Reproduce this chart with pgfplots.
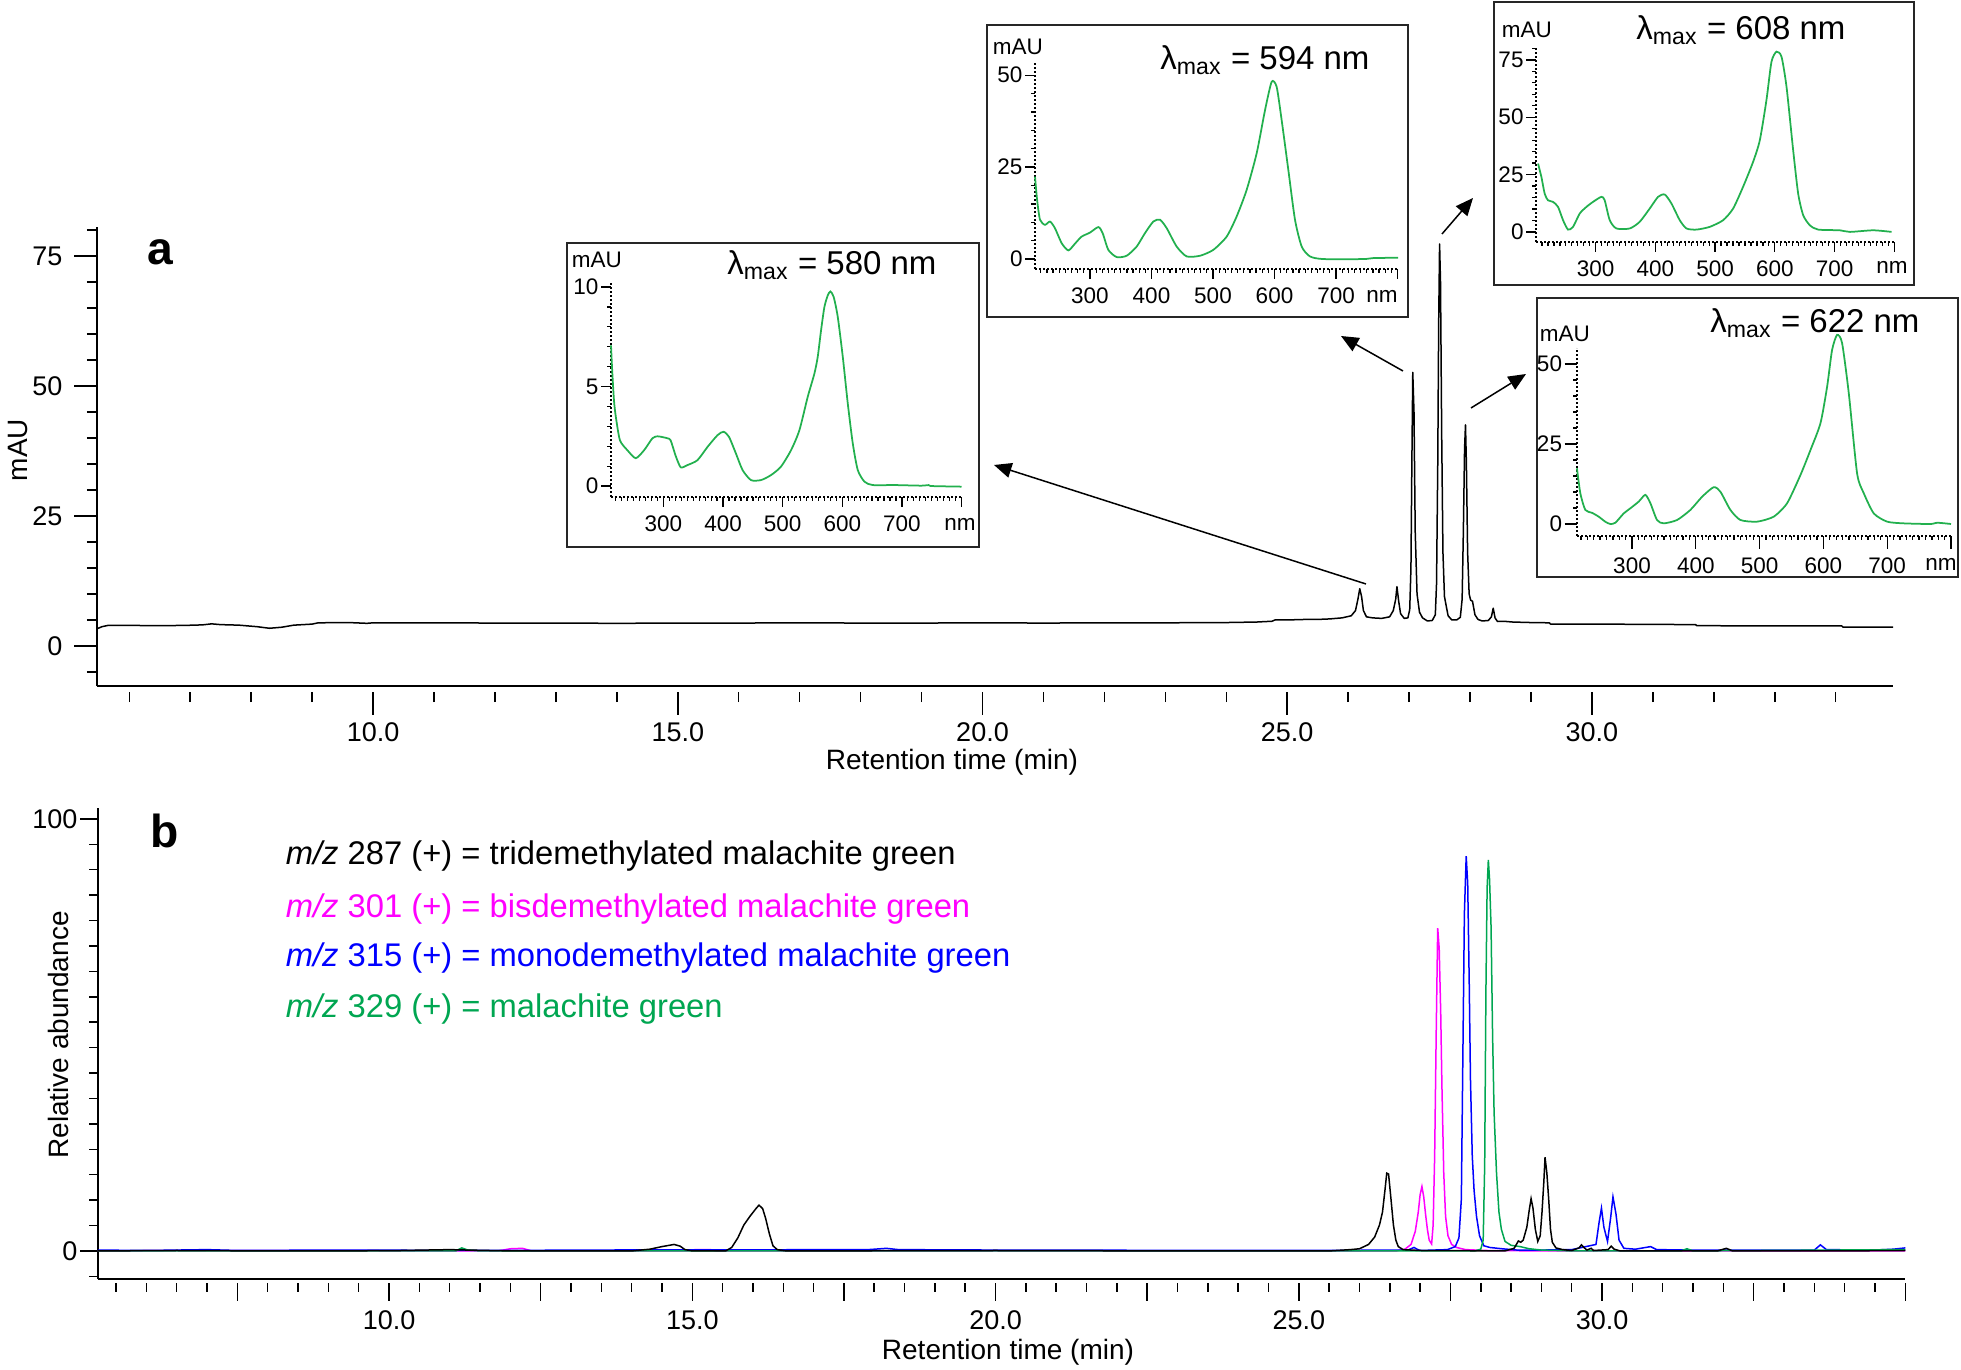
\documentclass[border=0pt]{standalone}
\usepackage{fontspec}
\setmainfont{Liberation Sans}
\usepackage{pgfplots}
\pgfplotsset{compat=1.18}
\usetikzlibrary{arrows.meta}
\definecolor{spgreen}{HTML}{22B04E}
\definecolor{msgreen}{HTML}{00A651}
\definecolor{msmag}{HTML}{FF00FF}
\definecolor{msblue}{HTML}{0000FF}

\pgfplotsset{
  inset/.style={anchor=south west, scale only axis, axis lines=left, clip=false,
    axis line style={-,densely dotted,line width=0.6pt},
    tick align=outside, major tick length=4pt, minor tick length=1.6pt,
    every tick/.style={black,line width=0.5pt},
    xtick={300,400,500,600,700,800}, xticklabels={300,400,500,600,700,},
    minor xtick={210,220,...,790},
    tick label style={font=\fontsize{9}{10}\selectfont},
    yticklabel style={inner sep=0.8pt},
    /pgf/number format/assume math mode=true},
  spec/.style={spgreen,line width=0.7pt,smooth,tension=0.4}
}

\begin{document}
\begin{tikzpicture}
\useasboundingbox (0,0) rectangle (784.4pt,-548pt);

% ---- panel a: UV chromatogram
\begin{axis}[at={(38.8pt,-274.4pt)},anchor=south west,scale only axis,
  width=718.4pt,height=183.7pt,
  xmin=5.47,xmax=34.94,ymin=-7.7,ymax=80.6,
  axis lines=left,axis line style={-,line width=0.7pt},
  tick align=outside,major tick length=9pt,minor tick length=4pt,
  every tick/.style={black,line width=0.6pt},
  xtick={10,15,20,25,30},xticklabels={10.0,15.0,20.0,25.0,30.0},
  minor xtick={6,7,...,34},
  ytick={0,25,50,75},minor ytick={-5,5,10,...,80},
  xtick style={yshift=-2.4pt},
  tick label style={font=\fontsize{10.8}{12}\selectfont},
  xticklabel style={anchor=center,yshift=-9.6pt},
  yticklabel style={anchor=east,inner sep=0pt,xshift=-4.6pt},
  /pgf/number format/assume math mode=true]
\addplot[black,line width=0.6pt,line join=round] coordinates {
(5.47,3.3)(5.55,3.7)(5.65,3.95)(6.0,3.95)(6.5,3.9)(6.9,3.95)(7.2,4.05)(7.35,4.25)
(7.5,4.1)(7.8,4.0)(8.1,3.7)(8.3,3.4)(8.5,3.6)(8.7,4.0)(9.0,4.2)(9.1,4.45)(9.6,4.5)
(9.9,4.35)(10.0,4.45)(11.0,4.45)(12.0,4.4)(13.0,4.4)(14.0,4.35)(15.0,4.4)(16.0,4.4)
(17.0,4.45)(18.0,4.4)(19.0,4.4)(20.0,4.45)(21.0,4.4)(22.0,4.45)(23.0,4.45)(24.0,4.5)
(24.5,4.6)(24.75,4.75)(24.8,5.0)(25.0,5.0)(25.3,5.1)(25.5,5.1)(25.7,5.2)(25.9,5.4)
(26.05,5.8)(26.12,6.8)(26.16,9.0)(26.19,11.0)(26.22,9.5)(26.25,6.8)(26.3,5.6)(26.4,5.4)
(26.55,5.3)(26.68,5.6)(26.74,6.8)(26.78,9.0)(26.80,11.4)(26.83,8.5)(26.86,6.2)(26.92,5.3)
(26.98,5.4)(27.01,7)(27.03,15)(27.045,35)(27.06,52.6)(27.08,45)(27.10,22)(27.13,10)
(27.17,6.5)(27.22,5.4)(27.3,4.8)(27.38,4.9)(27.43,6)(27.45,12)(27.47,35)(27.485,62)
(27.50,77.3)(27.515,70)(27.535,40)(27.555,18)(27.58,9.5)(27.61,7.6)(27.64,5.8)(27.7,5.0)
(27.78,5.0)(27.84,5.5)(27.87,9)(27.89,22)(27.91,38)(27.925,42.5)(27.94,35)(27.96,18)
(27.985,10)(28.01,8.8)(28.04,8.6)(28.08,6)(28.13,5.1)(28.2,4.8)(28.3,4.9)(28.35,5.6)
(28.38,7.25)(28.41,5.4)(28.45,4.7)(28.55,4.75)(28.7,4.6)(29.0,4.5)(29.3,4.45)(29.32,4.2)
(30.0,4.2)(31.0,4.15)(31.7,4.1)(31.72,3.9)(33.0,3.85)(34.1,3.85)(34.12,3.6)(34.94,3.6)};
\end{axis}

% ---- panel b: extracted ion chromatograms
\begin{axis}[at={(39.16pt,-511.6pt)},anchor=south west,scale only axis,
  width=722.96pt,height=188.35pt,
  xmin=5.2,xmax=35,ymin=-6.5,ymax=102.5,
  axis lines=left,axis line style={-,line width=0.7pt},
  tick align=outside,major tick length=7pt,minor tick length=3.5pt,
  every tick/.style={black,line width=0.6pt},
  xtick={7.5,10,...,35},xticklabels={,10.0,,15.0,,20.0,,25.0,,30.0,,},
  minor xtick={5.5,6,...,34.5},
  ytick={0,100},
  minor ytick={-5.882,5.882,11.765,17.647,23.529,29.412,35.294,41.176,47.059,52.941,58.824,64.706,70.588,76.471,82.353,88.235,94.118},
  xtick style={yshift=-1.6pt},
  tick label style={font=\fontsize{10.8}{12}\selectfont},
  xticklabel style={anchor=center,yshift=-9.4pt},
  yticklabel style={anchor=east,inner sep=0pt,xshift=-1pt},
  /pgf/number format/assume math mode=true]
\addplot[msmag,line width=0.6pt] coordinates {
(5.2,0)(7.0,0.1)(11.8,0)(12.0,0.5)(12.2,0.6)(12.35,0)(14.9,0)(15.05,0.3)(15.3,0.3)(15.4,0)
(26.6,0)(26.75,0.4)(26.85,1.5)(26.92,4.5)(26.97,9)(27.0,13)(27.03,14.9)(27.06,12.5)
(27.09,8.5)(27.12,5)(27.15,2.5)(27.19,1.6)(27.215,6)(27.24,22)(27.265,50)(27.29,74.7)
(27.315,70)(27.34,55)(27.36,38)(27.39,18)(27.42,8)(27.46,3.5)(27.52,1.5)(27.6,0.8)
(27.75,0.3)(28.1,0.1)(29.0,0)(33.0,0)(35.0,0)};
\addplot[msblue,line width=0.6pt] coordinates {
(5.2,0.2)(6.0,0.1)(7.0,0.3)(7.5,0.1)(9.0,0.2)(12.0,0.1)(13.0,0.2)(17.9,0.3)(18.2,0.6)
(18.4,0.3)(20.0,0.2)(25.0,0.1)(26.8,0.2)(26.9,0.8)(26.95,0.4)(27.0,0.1)(27.45,0.3)
(27.58,1)(27.64,3)(27.68,12)(27.705,45)(27.73,78)(27.76,91.4)(27.785,85)(27.81,62)
(27.83,40)(27.86,22)(27.89,14)(27.93,8)(27.98,3.5)(28.05,1.2)(28.15,0.8)(28.35,0.5)
(28.6,0.2)(29.0,0.2)(29.5,0.3)(29.8,1.2)(29.9,1.5)(29.95,6.5)(29.99,9.9)(30.03,5.5)
(30.09,2.2)(30.14,7.5)(30.18,12.5)(30.23,8.5)(30.28,2.5)(30.36,0.6)(30.55,0.4)(30.8,1.0)
(30.9,0.3)(31.5,0.2)(33.5,0.2)(33.6,1.4)(33.7,0.3)(34.5,0.2)(34.8,0.4)(35.0,0.7)};
\addplot[msgreen,line width=0.6pt] coordinates {
(5.2,0)(11.1,0)(11.2,0.7)(11.3,0.2)(11.5,0)(27.9,0)(28.0,0.4)(28.04,2.5)(28.065,20)
(28.085,60)(28.105,84)(28.125,90.5)(28.145,86)(28.17,75)(28.195,50)(28.22,32)(28.26,18)
(28.3,9)(28.34,5)(28.4,2.2)(28.5,1.3)(28.65,1.0)(28.8,0.5)(29.0,0.2)(29.5,0)(31.3,0)
(31.4,0.5)(31.5,0)(34.9,0.3)(35.0,0.3)};
\addplot[black,line width=0.6pt] coordinates {
(5.2,0)(6.5,0.1)(8.0,0)(10.0,0.05)(11.0,0.3)(11.3,0.2)(12.0,0)(14.0,0)(14.3,0.4)(14.5,1.0)
(14.7,1.5)(14.8,1.1)(14.88,0.3)(15.0,0)(15.55,0)(15.65,0.8)(15.75,3.0)(15.85,6.0)(15.95,8.0)
(16.05,9.8)(16.1,10.6)(16.16,9.8)(16.21,7.5)(16.27,4.0)(16.33,1.2)(16.4,0.3)(16.55,0)
(20.0,0.1)(23.0,0)(25.5,0)(25.85,0.3)(26.0,0.5)(26.15,1.5)(26.25,3.2)(26.33,6.0)(26.38,9)
(26.42,14)(26.45,18.0)(26.48,17.8)(26.52,12)(26.56,6)(26.6,2.5)(26.64,1.0)(26.72,0.3)
(27.0,0.1)(28.4,0)(28.55,0.6)(28.62,2.3)(28.66,2.0)(28.7,2.5)(28.76,5.5)(28.8,9.5)
(28.83,12.1)(28.86,10)(28.9,5)(28.94,2.2)(28.98,3.5)(29.01,9)(29.04,16)(29.06,21.7)
(29.09,18)(29.12,12)(29.15,5)(29.18,2)(29.24,0.7)(29.35,0.3)(29.5,0.1)(29.62,0.7)
(29.66,1.4)(29.7,0.8)(29.75,0.2)(29.82,0.6)(29.86,0.1)(30.1,0.3)(30.15,1.1)(30.2,0.4)
(30.3,0)(31.9,0)(32.05,0.6)(32.15,0)(34.0,0)(35.0,0.1)};
\end{axis}

% ---- texts, arrows and inset frames
\begin{scope}[x=0.4pt,y=-0.4pt]
\node[font=\fontsize{11.2}{13}\selectfont] at (952,762) {Retention time (min)};
\node[font=\fontsize{11.2}{13}\selectfont] at (1008,1352) {Retention time (min)};
\node[font=\fontsize{11.2}{13}\selectfont,rotate=90] at (18,450) {mAU};
\node[font=\fontsize{11.2}{13}\selectfont,rotate=90] at (58,1035) {Relative abundance};
\node[font=\fontsize{18.5}{20}\selectfont\bfseries,anchor=base] at (160,265) {a};
\node[font=\fontsize{18.5}{20}\selectfont\bfseries,anchor=base] at (165,848) {b};
\begin{scope}[font=\fontsize{13.1}{15}\selectfont]
\node[anchor=base west] at (277,865) {\textit{m/z} 287 (+) = tridemethylated malachite green};
\node[anchor=base west,text=msmag] at (277,918) {\textit{m/z} 301 (+) = bisdemethylated malachite green};
\node[anchor=base west,text=msblue] at (277,967) {\textit{m/z} 315 (+) = monodemethylated malachite green};
\node[anchor=base west,text=msgreen] at (277,1018) {\textit{m/z} 329 (+) = malachite green};
\end{scope}
\begin{scope}[line width=0.6pt,-{Triangle[length=7pt,width=6pt]}]
\draw (1366,584) -- (994,465);
\draw (1403,371) -- (1341,336);
\draw (1442,234) -- (1473,198);
\draw (1471,408) -- (1526,374);
\end{scope}
\begin{scope}[draw=black!85,line width=0.7pt,fill=white]
\filldraw (567,243) rectangle (979,547);
\filldraw (987,25) rectangle (1408,317);
\filldraw (1494,2) rectangle (1914,285);
\filldraw (1537,298) rectangle (1958,577);
\end{scope}
\begin{scope}[font=\fontsize{9}{10}\selectfont]
\node[anchor=base] at (597,268) {mAU};
\node[anchor=base] at (1018,55) {mAU};
\node[anchor=base] at (1527,38) {mAU};
\node[anchor=base] at (1565,342) {mAU};
\node[anchor=base] at (960,531) {nm};
\node[anchor=base] at (1382,303) {nm};
\node[anchor=base] at (1892,274) {nm};
\node[anchor=base] at (1941,571) {nm};
\end{scope}
\begin{scope}[font=\fontsize{13.2}{15}\selectfont]
\node[anchor=base] at (832,275) {λ\textsubscript{max} = 580 nm};
\node[anchor=base] at (1265,70) {λ\textsubscript{max} = 594 nm};
\node[anchor=base] at (1741,40) {λ\textsubscript{max} = 608 nm};
\node[anchor=base] at (1815,333) {λ\textsubscript{max} = 622 nm};
\end{scope}
\end{scope}

% ---- inset 1: 580 nm
\begin{axis}[inset,at={(244.4pt,-198.8pt)},width=140.2pt,height=85.97pt,
  xmin=212,xmax=800,ymin=-0.55,ymax=10.25,ytick={0,5,10},minor ytick={1,2,3,4,6,7,8,9}]
\addplot[spec] coordinates {
(212,7.07)(214,5.8)(217,4.3)(220,3.5)(227,2.3)(239.5,1.8)(253.5,1.4)(267.5,1.8)(281.5,2.4)
(290,2.5)(300,2.45)(306.7,2.4)(312,2.3)(320.7,1.5)(329,0.94)(340,1.05)(357,1.3)(374,1.97)
(390.8,2.56)(400.8,2.73)(410,2.47)(421.5,1.64)(432.8,0.8)(446.8,0.3)(463.6,0.3)(480.4,0.55)
(497,0.97)(514,1.8)(528,2.8)(542,4.48)(553.2,5.65)(558.8,6.49)(564.4,7.83)(570,9.0)
(575.6,9.58)(580,9.78)(585.6,9.5)(592.4,8.5)(600.8,6.5)(609.2,4.15)(617.6,2.14)(626,0.8)
(637.3,0.22)(651,0.05)(687.6,0.05)(732.5,0.02)(745,0.05)(750,0.0)(800,-0.03)};
\end{axis}

% ---- inset 2: 594 nm
\begin{axis}[inset,at={(414pt,-107.6pt)},width=145pt,height=82.4pt,
  xmin=210.6,xmax=800,ymin=-2.7,ymax=53.3,ytick={0,25,50},minor ytick={5,10,...,45}]
\addplot[spec] coordinates {
(210.6,22.4)(214,16.1)(218.7,10.7)(226.8,9.3)(235,10.2)(243,8.4)(254,4.3)(264.8,2.35)
(275.6,4.2)(286.4,6.1)(300,7.2)(313.6,8.7)(320.6,7.05)(329.8,2.5)(343.4,0.54)(359.6,0.9)
(375.9,3.4)(389.4,7.05)(403,10.2)(413.8,10.7)(424.7,8.4)(440.9,3.4)(457.2,0.72)(478.9,0.9)
(500.5,2.5)(522.2,6.1)(538.5,11.6)(554.7,18.8)(571,28.75)(584.6,40.5)(595.4,48.2)
(603.5,46.8)(611.6,37.8)(622.5,24.2)(633.3,10.7)(644.2,3.4)(657.7,0.72)(679.4,0)
(744.4,0)(760.7,0.27)(801,0.36)};
\end{axis}

% ---- inset 3: 608 nm
\begin{axis}[inset,at={(614.4pt,-96.8pt)},width=144pt,height=78.05pt,
  xmin=200,xmax=803,ymin=-4.4,ymax=80.7,ytick={0,25,50,75},minor ytick={5,10,...,80}]
\addplot[spec] coordinates {
(203.4,29.8)(209,24.0)(214.5,16.7)(220,13.8)(228.5,13.1)(236.9,10.9)(245.3,5.1)(253.6,1.0)
(262,2.2)(273.2,8.0)(284.4,10.9)(295.5,13.1)(309.5,15.3)(315,13.8)(323.5,5.1)(334.6,1.5)
(357,1.5)(373.7,4.4)(390.5,10.2)(404.5,15.3)(415.6,16.3)(426.8,12.4)(440.8,5.1)(452,1.5)
(468.7,1.0)(491,2.2)(513.4,5.1)(530.2,10.2)(546.9,19.7)(563.7,30.6)(574.9,40.0)(586,57.5)
(594.4,74.2)(602.8,78.6)(611.2,76.4)(619.6,63.3)(630.7,35.7)(639.1,16.7)(647.5,7.3)
(658.7,2.9)(672.6,1.0)(709,0.7)(725.7,0)(764.8,0.7)(795.5,0)};
\end{axis}

% ---- inset 4: 622 nm
\begin{axis}[inset,at={(630.8pt,-214.4pt)},width=149.6pt,height=75.2pt,
  xmin=213.8,xmax=800,ymin=-3.75,ymax=55,ytick={0,25,50},minor ytick={5,10,...,50},
  major tick length=5pt]
\addplot[spec] coordinates {
(213.7,17.4)(219,9.6)(226.8,4.4)(237.3,3.5)(247.7,2.3)(258.2,0.7)(266,0)(273.9,0.4)(287,3.3)
(297.4,4.9)(310.5,7.0)(320.9,9.1)(328.8,6.5)(339.2,1.25)(349.7,0.2)(370.6,1.25)(391.5,4.4)
(409.8,8.5)(428,11.5)(438.5,10.1)(454.2,4.4)(469.9,1.25)(496,0.73)(522.2,2.3)(543.1,6.5)
(564,15.3)(579.7,23.1)(595.4,31.5)(605.8,42.9)(613.6,54.4)(621.5,59.1)(629.3,56.5)
(639.8,40.8)(652.8,15.8)(663.3,9.6)(679,3.3)(699.9,0.73)(726,0.2)(767.8,0)(778.3,0.4)(800,0)};
\end{axis}
\end{tikzpicture}
\end{document}
